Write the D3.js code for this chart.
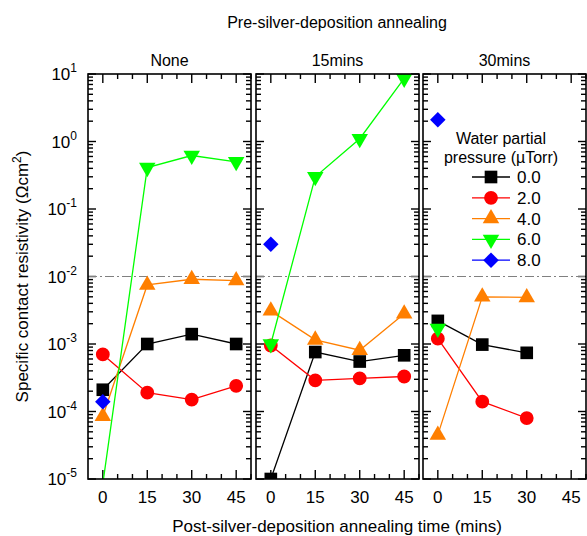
<!DOCTYPE html>
<html>
<head>
<meta charset="utf-8">
<script src="https://cdn.jsdelivr.net/npm/d3@7.9.0/dist/d3.min.js"></script>
<style>
  body { margin: 0; background: #fff; }
  svg { font-family: "Liberation Sans", Arial, sans-serif; }
</style>
</head>
<body>
<svg id="chart" width="587" height="536"></svg>
<script>
// post-silver-deposition annealing times (mins)
const times = [0, 15, 30, 45];
const panelTitles = ["None", "15mins", "30mins"];
const pressures = ["0.0", "2.0", "4.0", "6.0", "8.0"];

// specific contact resistivity, one row per water partial pressure
const rhoNone = [
  [2.1e-4, 1.0e-3, 1.4e-3, 1.0e-3],
  [7.0e-4, 1.9e-4, 1.5e-4, 2.4e-4],
  [8.5e-5, 7.5e-3, 9.1e-3, 8.7e-3],
  [8.5e-6, 0.41, 0.62, 0.50],
  [1.4e-4, null, null, null]
];
const rho15 = [
  [1.0e-5, 7.6e-4, 5.5e-4, 6.8e-4],
  [9.5e-4, 2.9e-4, 3.1e-4, 3.3e-4],
  [3.1e-3, 1.15e-3, 8.1e-4, 2.8e-3],
  [1.0e-3, 0.30, 1.1, 8.6],
  [0.030, null, null, null]
];
const rho30 = [
  [2.2e-3, 9.8e-4, 7.4e-4, null],
  [1.2e-3, 1.4e-4, 8.0e-5, null],
  [4.5e-5, 5.0e-3, 4.9e-3, null],
  [1.7e-3, null, null, null],
  [2.1, null, null, null]
];
const threshold = 1e-2;

const colors = ["#000000", "#ff0000", "#ff7f00", "#00ff00", "#0000ff"];
const shapes = [
  { type: d3.symbolSquare, size: 160, rot: 0 },
  { type: d3.symbolCircle, size: 150, rot: 0 },
  { type: d3.symbolTriangle, size: 118, rot: 0 },
  { type: d3.symbolTriangle, size: 118, rot: 180 },
  { type: d3.symbolSquare, size: 120, rot: 45 }
];

const svg = d3.select("#chart");
const yTop = 74, yBottom = 479, pw = 163;
const panelX = [88, 256, 423];
const allData = [rhoNone, rho15, rho30];

const y = d3.scaleLog().domain([1e-5, 10]).range([yBottom, yTop]);
const majorY = d3.range(-5, 2).map(e => Math.pow(10, e));
const minorY = y.ticks().filter(v => !majorY.some(m => Math.abs(m - v) / m < 1e-6));

function marker(g, i, cx, cy) {
  const s = shapes[i];
  g.append("path")
    .attr("d", d3.symbol().type(s.type).size(s.size)())
    .attr("transform", `translate(${cx},${cy}) rotate(${s.rot})`)
    .attr("fill", colors[i]);
}

panelX.forEach((x0, p) => {
  const x = d3.scaleLinear().domain([-5, 50]).range([x0, x0 + pw]);
  const x1 = x0 + pw;
  const g = svg.append("g");

  g.append("clipPath").attr("id", "clip" + p)
    .append("rect").attr("x", x0).attr("y", yTop).attr("width", pw).attr("height", yBottom - yTop);

  // ticks, pointing inward on all four sides
  const minorX = d3.range(5, 51, 5).filter(v => v % 15 !== 0);
  const yTicks = majorY.map(v => [v, 8]).concat(minorY.map(v => [v, 5]));
  const xTicks = times.map(v => [v, 9]).concat(minorX.map(v => [v, 5]));
  const tk = g.append("g").attr("stroke", "#000").attr("stroke-width", 1.4);
  [[x0, 1], [x1, -1]].forEach(([xe, dir]) => {
    tk.selectAll(null).data(yTicks).join("line")
      .attr("x1", xe).attr("x2", d => xe + dir * d[1])
      .attr("y1", d => y(d[0])).attr("y2", d => y(d[0]));
  });
  [[yBottom, -1], [yTop, 1]].forEach(([ye, dir]) => {
    tk.selectAll(null).data(xTicks).join("line")
      .attr("y1", ye).attr("y2", d => ye + dir * d[1])
      .attr("x1", d => x(d[0])).attr("x2", d => x(d[0]));
  });

  // x tick labels
  g.selectAll(null).data(times).join("text")
    .attr("x", d => x(d)).attr("y", 503)
    .attr("text-anchor", "middle").attr("font-size", 17).text(d => d);

  // panel title
  g.append("text").attr("x", x0 + pw / 2).attr("y", 66)
    .attr("text-anchor", "middle").attr("font-size", 16).text(panelTitles[p]);

  // threshold line
  g.append("line")
    .attr("x1", x0).attr("x2", x1).attr("y1", y(threshold)).attr("y2", y(threshold))
    .attr("stroke", "#808080").attr("stroke-width", 1.2).attr("stroke-dasharray", "9,3,2,3");

  const plot = g.append("g").attr("clip-path", `url(#clip${p})`);
  const line = d3.line().defined(d => d[1] != null).x(d => x(d[0])).y(d => y(d[1]));
  allData[p].forEach((row, i) => {
    const pts = times.map((t, k) => [t, row[k]]);
    plot.append("path").attr("d", line(pts))
      .attr("fill", "none").attr("stroke", colors[i]).attr("stroke-width", 1.3);
    pts.filter(d => d[1] != null).forEach(d => marker(plot, i, x(d[0]), y(d[1])));
  });

  g.append("rect").attr("x", x0).attr("y", yTop).attr("width", pw).attr("height", yBottom - yTop)
    .attr("fill", "none").attr("stroke", "#000").attr("stroke-width", 1.6);
});

// y tick labels with superscript exponents
majorY.forEach(v => {
  const t = svg.append("text").attr("x", 77).attr("y", y(v) + 6)
    .attr("text-anchor", "end").attr("font-size", 17).text("10");
  t.append("tspan").attr("dy", -8).attr("font-size", 12).text(Math.round(Math.log10(v)));
});

// axis titles
svg.append("text").attr("transform", `translate(28,${(yTop + yBottom) / 2}) rotate(-90)`)
  .attr("text-anchor", "middle").attr("font-size", 17)
  .call(t => {
    t.append("tspan").text("Specific contact resistivity (Ωcm");
    t.append("tspan").attr("dy", -7).attr("font-size", 12).text("2");
    t.append("tspan").attr("dy", 7).text(")");
  });
svg.append("text").attr("x", 337).attr("y", 532).attr("text-anchor", "middle")
  .attr("font-size", 17).text("Post-silver-deposition annealing time (mins)");
svg.append("text").attr("x", 337).attr("y", 28).attr("text-anchor", "middle")
  .attr("font-size", 16).text("Pre-silver-deposition annealing");

// legend
const lg = svg.append("g");
lg.append("text").attr("x", 501).attr("y", 144).attr("text-anchor", "middle")
  .attr("font-size", 16).text("Water partial");
lg.append("text").attr("x", 501).attr("y", 163).attr("text-anchor", "middle")
  .attr("font-size", 16).text("pressure (µTorr)");
pressures.forEach((lab, i) => {
  const ly = 177 + i * 20.8;
  lg.append("line").attr("x1", 472).attr("x2", 510).attr("y1", ly).attr("y2", ly)
    .attr("stroke", colors[i]).attr("stroke-width", 1.3);
  marker(lg, i, 491, ly);
  lg.append("text").attr("x", 517).attr("y", ly + 6).attr("font-size", 17).text(lab);
});
</script>
</body>
</html>
